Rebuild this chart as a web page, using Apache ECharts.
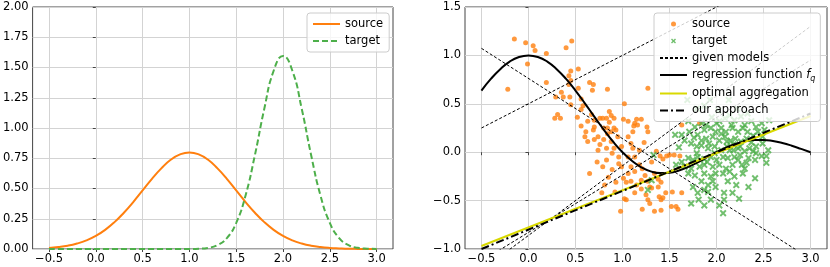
<!DOCTYPE html>
<html>
<head>
<meta charset="utf-8">
<script src="https://cdn.jsdelivr.net/npm/echarts@6/dist/echarts.min.js"></script>
<style>html,body{margin:0;padding:0;background:#fff}#c{width:830px;height:267px}</style>
</head>
<body>
<div id="c"></div>
<script>
// ---- data ----
const xTicks = [-0.5, 0.0, 0.5, 1.0, 1.5, 2.0, 2.5, 3.0];
const densityTicks = [0, 0.25, 0.5, 0.75, 1.0, 1.25, 1.5, 1.75, 2.0];
const regTicks = [-1.0, -0.5, 0.0, 0.5, 1.0, 1.5];
const xs = [-0.5,-0.4,-0.3,-0.2,-0.1,0.0,0.1,0.2,0.3,0.4,0.5,0.6,0.7,0.8,0.9,1.0,1.1,1.2,1.3,1.4,1.5,1.6,1.7,1.8,1.9,2.0,2.1,2.2,2.3,2.4,2.5,2.6,2.7,2.8,2.9,3.0];
const sourceDensity = [0.009,0.016,0.027,0.045,0.071,0.108,0.158,0.222,0.300,0.388,0.484,0.580,0.666,0.737,0.782,0.798,0.782,0.737,0.666,0.580,0.484,0.388,0.300,0.222,0.158,0.108,0.071,0.045,0.027,0.016,0.009,0.005,0.002,0.001,0.0006,0.0003];
const targetDensity = [0,0,0,0,0,0,0,0,0,0,0,0,0,0,0.0001,0.0005,0.0024,0.0095,0.032,0.090,0.216,0.443,0.777,1.159,1.473,1.596,1.473,1.159,0.777,0.443,0.216,0.090,0.032,0.0095,0.0024,0.0005];
const regressionF = [0.637,0.757,0.858,0.936,0.984,1.0,0.984,0.936,0.858,0.757,0.637,0.505,0.368,0.234,0.109,0.0,-0.089,-0.156,-0.198,-0.216,-0.212,-0.189,-0.152,-0.104,-0.052,0.0,0.047,0.085,0.112,0.126,0.127,0.116,0.095,0.067,0.034,0.0];
const lineEnds = [-0.5, 3.0];
const modelStart = [1.073, 0.25, -1.22, -1.125];
const modelEnd = [-1.104, 2.0, 1.30, 0.951];
const optimalAgg = [-0.969, 0.374];
const ourApproach = [-1.0, 0.4];
const sourcePoints = [
[-0.15,1.17],[-0.03,1.13],[0.05,1.10],[0.07,1.05],[-0.01,0.91],[0.19,1.02],[0.40,1.08],[0.46,1.15],[0.45,0.84],[0.53,0.86],
[-0.22,0.65],[0.19,0.72],[0.43,0.79],[0.45,0.74],[0.43,0.70],[0.35,0.62],[0.29,0.57],[0.37,0.57],[0.44,0.57],[0.45,0.49],
[0.31,0.39],[0.28,0.35],[0.34,0.35],[0.53,0.66],[0.65,0.72],[0.69,0.70],[0.68,0.64],[0.56,0.55],[0.58,0.48],[0.56,0.44],
[0.56,0.27],[0.63,0.32],[0.67,0.39],[0.70,0.33],[0.70,0.26],[0.61,0.21],[0.69,0.23],[0.76,0.35],[0.79,0.35],[0.84,0.65],
[0.83,0.35],[0.86,0.42],[0.88,0.38],[0.91,0.35],[0.86,0.31],[0.80,0.25],[0.84,0.25],[0.91,0.25],[0.93,0.23],[0.88,0.21],
[0.60,0.16],[0.63,0.11],[0.70,0.13],[0.74,0.16],[0.84,0.19],[0.80,0.13],[0.88,0.11],[0.95,0.16],[1.01,0.34],[1.02,0.50],
[1.06,0.32],[1.13,0.30],[1.15,0.34],[1.20,0.34],[1.12,0.27],[1.16,0.28],[1.27,0.66],[1.26,0.26],[1.27,0.21],[1.11,0.21],
[0.74,0.02],[0.83,0.04],[0.91,0.04],[0.83,-0.08],[0.73,-0.10],[0.79,-0.15],[0.89,-0.01],[0.99,0.06],[1.06,0.16],[1.09,0.09],
[1.11,0.04],[1.18,0.02],[1.06,-0.05],[1.13,-0.05],[0.96,-0.05],[0.96,-0.12],[0.99,-0.15],[1.09,-0.15],[1.18,-0.13],[1.21,-0.17],
[1.31,-0.10],[1.36,0.01],[1.40,-0.04],[1.43,-0.07],[1.47,-0.04],[1.50,-0.03],[1.55,-0.03],[1.61,-0.04],[1.63,0.28],[1.82,0.30],
[0.65,-0.22],[0.85,-0.26],[0.81,-0.34],[0.93,-0.31],[1.01,-0.27],[1.06,-0.22],[1.04,-0.31],[1.09,-0.30],[1.15,-0.34],[1.20,-0.29],
[1.24,-0.24],[1.27,-0.30],[1.34,-0.22],[1.38,-0.28],[1.41,-0.31],[1.29,-0.36],[1.38,-0.36],[0.78,-0.42],[0.92,-0.41],[1.02,-0.48],
[1.04,-0.49],[1.20,-0.38],[1.13,-0.42],[1.25,-0.44],[1.27,-0.49],[1.29,-0.53],[1.39,-0.46],[1.41,-0.49],[1.43,-0.47],[1.46,-0.42],
[1.53,-0.41],[1.63,-0.42],[1.52,-0.56],[1.57,-0.56],[1.59,-0.59],[0.98,-0.61],[1.21,-0.59],[1.34,-0.61],[1.41,-0.60],[1.31,-0.37],
[1.13,-0.20],[0.89,-0.18],[1.23,0.10],[0.52,0.36],[0.76,0.08]
];
const targetPoints = [
[1.69,0.54],[1.93,0.54],[2.13,0.54],[1.79,0.45],[1.87,0.48],
[1.84,0.30],[1.95,0.36],[2.00,0.30],[2.09,0.35],[2.14,0.38],[2.19,0.33],[2.26,0.37],[2.33,0.40],[2.37,0.32],[2.42,0.26],
[2.48,0.30],[2.56,0.33],[1.56,0.18],[1.63,0.18],[1.71,0.21],[1.80,0.18],[1.87,0.23],[1.94,0.25],[1.99,0.21],[2.05,0.25],
[2.10,0.21],[2.17,0.25],[2.23,0.21],[2.28,0.25],[2.33,0.21],[2.39,0.17],[2.44,0.21],[1.89,0.14],[1.96,0.16],[2.03,0.12],
[2.09,0.16],[2.15,0.12],[2.20,0.14],[2.26,0.11],[2.32,0.14],[2.37,0.10],[1.73,0.09],[1.79,0.06],[1.84,0.07],[1.91,0.04],
[1.98,0.06],[2.05,0.02],[2.11,0.06],[2.18,0.02],[2.23,0.04],[2.30,0.01],[2.35,0.04],[2.42,-0.01],[2.48,-0.04],[2.53,-0.11],
[2.25,-0.03],[2.19,-0.05],[2.12,-0.06],[2.07,-0.05],[2.00,-0.08],[1.94,-0.05],[1.87,-0.07],[1.80,-0.05],[1.75,-0.08],[1.70,-0.06],
[1.63,-0.10],[1.57,-0.13],[1.66,-0.15],[1.73,-0.17],[1.82,-0.15],[1.87,-0.13],[1.96,-0.15],[2.03,-0.13],[2.10,-0.17],[2.17,-0.13],
[2.23,-0.08],[2.07,-0.22],[2.14,-0.20],[2.30,-0.17],[2.41,-0.27],[2.32,-0.11],[2.53,-0.04],[2.25,0.06],[1.70,-0.22],[1.77,-0.24],
[1.87,-0.22],[1.94,-0.25],[1.99,-0.22],[1.84,-0.30],[1.91,-0.34],[1.75,-0.36],[1.80,-0.42],[1.87,-0.39],[1.91,-0.41],[1.99,-0.36],
[2.08,-0.42],[2.17,-0.42],[2.24,-0.48],[1.73,-0.53],[1.81,-0.49],[1.87,-0.55],[1.94,-0.49],[2.03,-0.55],[2.08,-0.49],[2.07,-0.63],
[1.27,-0.39],[1.31,-0.29],[1.33,-0.03],[1.70,0.32],[1.77,0.26],[1.89,0.28],[2.03,0.32],[2.16,0.28],[2.30,0.28],[2.51,0.23],
[2.49,0.09],[2.55,0.02],[2.42,0.06],[2.41,-0.08],[2.34,-0.06],[2.28,-0.22],[2.19,-0.25],[2.12,-0.30],[2.21,-0.34],[2.34,-0.36],
[1.84,0.12],[1.79,-0.01],[1.98,-0.01],[2.11,0.11],[1.92,0.09],[2.18,0.08],[2.49,0.16],[1.60,0.05],[1.66,0.12],[2.02,0.43],
[2.22,0.45],[1.96,-0.30],[2.05,0.19],[2.14,0.02],[1.90,-0.10],[2.27,-0.13],[1.76,0.15],[2.39,0.01]
];

// ---- chart ----
const ORANGE = '#ff7f0e', GREEN = '#4daf4a', YELLOW = '#d9d900';
const FONT = 'DejaVu Sans';
const FS = 11.5;
const fmt1 = v => (v < 0 ? '\u2212' : '') + Math.abs(v).toFixed(1);
const fmt2 = v => (v < 0 ? '\u2212' : '') + Math.abs(v).toFixed(2);
const XMARK = 'path://M0,2L2,0L5,3L8,0L10,2L7,5L10,8L8,10L5,7L2,10L0,8L3,5Z';
const zip = (a, b) => a.map((v, i) => [v, b[i]]);

function xAxisDef(gi) {
  return {
    type: 'value', gridIndex: gi, min: -0.675, max: 3.175,
    axisLine: { show: false },
    axisTick: { show: true, length: 3, customValues: xTicks, lineStyle: { color: '#444' } },
    axisLabel: { customValues: xTicks, formatter: fmt1, margin: 4, color: '#000', fontFamily: FONT, fontSize: FS },
    splitLine: { show: true, lineStyle: { color: '#d3d3d3', width: 1 } }
  };
}
function yAxisDef(gi, min, max, interval, f) {
  return {
    type: 'value', gridIndex: gi, min, max, interval,
    axisLine: { show: false },
    axisTick: { show: true, length: 3, lineStyle: { color: '#444' } },
    axisLabel: { formatter: f, margin: 4, color: '#000', fontFamily: FONT, fontSize: FS },
    splitLine: { show: true, lineStyle: { color: '#d3d3d3', width: 1 } }
  };
}
const legendCommon = {
  orient: 'vertical', itemWidth: 27, itemHeight: 5, itemGap: 5,
  backgroundColor: 'rgba(255,255,255,0.8)', borderColor: '#cccccc', borderWidth: 1, borderRadius: 3,
  textStyle: { fontFamily: FONT, fontSize: FS, color: '#000',
    rich: { f: { fontFamily: FONT, fontSize: FS, fontStyle: 'italic' },
            q: { fontFamily: FONT, fontSize: 8, fontStyle: 'italic', verticalAlign: 'bottom', padding: [7, 0, 0, 0] } } },
  selectedMode: false
};
// line entries: hide the marker ECharts adds in the middle of a line icon
const lineItem = n => ({ name: n, itemStyle: { color: 'rgba(0,0,0,0)', borderWidth: 0, borderColor: 'rgba(0,0,0,0)' } });

const series = [
  { name: 'src-density', type: 'line', xAxisIndex: 0, yAxisIndex: 0, data: zip(xs, sourceDensity), smooth: true, showSymbol: false, symbol: 'none',
    lineStyle: { color: ORANGE, width: 2 }, itemStyle: { color: ORANGE } },
  { name: 'tgt-density', type: 'line', xAxisIndex: 0, yAxisIndex: 0, data: zip(xs, targetDensity), smooth: true, showSymbol: false, symbol: 'none',
    lineStyle: { color: GREEN, width: 2, type: [6, 3] }, itemStyle: { color: GREEN } },
  { name: 'source', type: 'scatter', xAxisIndex: 1, yAxisIndex: 1, data: sourcePoints, symbol: 'circle', symbolSize: 5,
    itemStyle: { color: ORANGE } },
  { name: 'target', type: 'scatter', xAxisIndex: 1, yAxisIndex: 1, data: targetPoints, symbol: XMARK, symbolSize: 7,
    itemStyle: { color: GREEN } }
];
modelStart.forEach((s, i) => {
  series.push({ name: 'given models', type: 'line', xAxisIndex: 1, yAxisIndex: 1, data: zip(lineEnds, [s, modelEnd[i]]),
    showSymbol: false, symbol: 'none', lineStyle: { color: '#000', width: 1, type: [3, 2] }, itemStyle: { color: '#000' } });
});
series.push(
  { name: 'regression function', type: 'line', xAxisIndex: 1, yAxisIndex: 1, data: zip(xs, regressionF), smooth: true, showSymbol: false, symbol: 'none',
    lineStyle: { color: '#000', width: 2 }, itemStyle: { color: '#000' } },
  { name: 'optimal aggregation', type: 'line', xAxisIndex: 1, yAxisIndex: 1, data: zip(lineEnds, optimalAgg), showSymbol: false, symbol: 'none',
    lineStyle: { color: YELLOW, width: 2 }, itemStyle: { color: YELLOW } },
  { name: 'our approach', type: 'line', xAxisIndex: 1, yAxisIndex: 1, data: zip(lineEnds, ourApproach), showSymbol: false, symbol: 'none',
    lineStyle: { color: '#000', width: 2, type: [8, 3, 2, 3] }, itemStyle: { color: '#000' } }
);

const chart = echarts.init(document.getElementById('c'), null, { renderer: 'canvas' });
chart.setOption({
  animation: false,
  backgroundColor: '#fff',
  grid: [
    { left: 32, top: 7, width: 361, height: 242, show: true, borderColor: '#444', borderWidth: 1, backgroundColor: 'transparent' },
    { left: 465, top: 7, width: 362, height: 242, show: true, borderColor: '#444', borderWidth: 1, backgroundColor: 'transparent' }
  ],
  xAxis: [xAxisDef(0), xAxisDef(1)],
  yAxis: [yAxisDef(0, 0, 2, 0.25, fmt2), yAxisDef(1, -1, 1.5, 0.5, fmt1)],
  legend: [
    Object.assign({}, legendCommon, { left: 307, top: 13, padding: [5, 6, 5, 5],
      data: [lineItem('src-density'), lineItem('tgt-density')],
      formatter: n => n === 'src-density' ? 'source' : 'target' }),
    Object.assign({}, legendCommon, { left: 654, top: 13, padding: [5, 5, 5, 5],
      data: ['source', 'target', lineItem('given models'), lineItem('regression function'), lineItem('optimal aggregation'), lineItem('our approach')],
      formatter: n => n === 'regression function' ? 'regression function {f|f}{q|q}' : n })
  ],
  series
});
</script>
</body>
</html>
